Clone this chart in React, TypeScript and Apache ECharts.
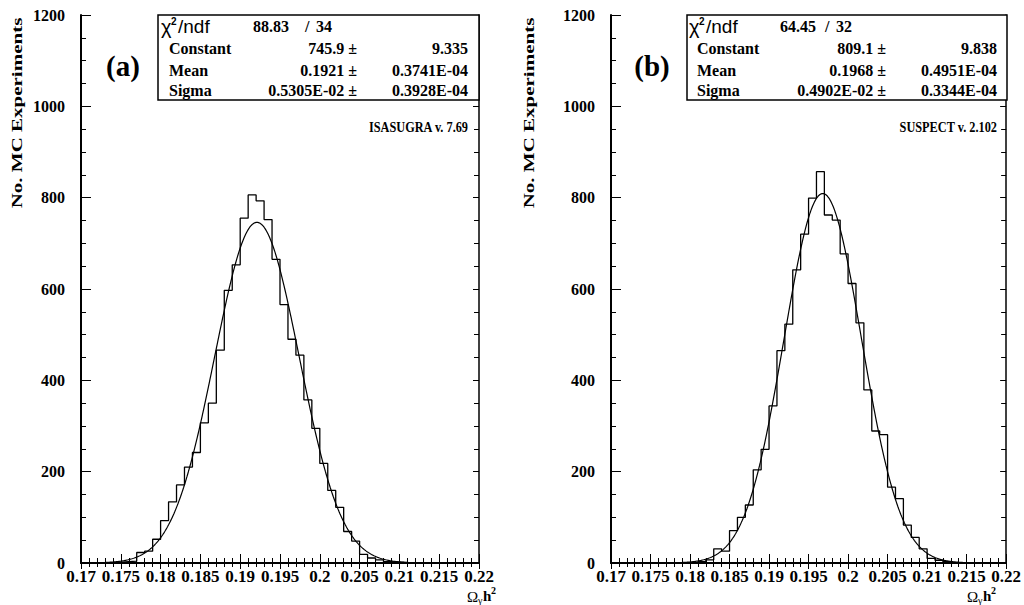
import React, { useEffect, useRef } from "react";
import * as echarts from "echarts";

// Histogram binning (Omega h^2)
const BIN_START = 0.17;
const BIN_WIDTH = 0.001;

// Panel (a): ISASUGRA v. 7.69 — counts per bin
const countsA = [
  0, 0, 0, 1, 2, 3, 4, 23, 26, 52,
  93, 134, 171, 210, 242, 307, 350, 466, 597, 653,
  755, 806, 793, 752, 665, 566, 490, 455, 357, 295,
  218, 159, 122, 69, 48, 19, 11, 7, 3, 2,
  1, 0, 0, 0, 0, 0, 0, 0, 0, 0,
];

// Panel (b): SUSPECT v. 2.102 — counts per bin
const countsB = [
  0, 0, 0, 0, 0, 0, 0, 0, 0, 0,
  1, 3, 7, 31, 26, 71, 100, 127, 204, 249,
  344, 465, 523, 642, 720, 799, 857, 762, 751, 677,
  612, 526, 379, 289, 281, 166, 141, 83, 56, 31,
  10, 6, 3, 1, 0, 0, 0, 0, 0, 0,
];

// Gaussian fit parameters (from the stat boxes)
const fitA = { constant: 745.9, mean: 0.1921, sigma: 0.5305e-2 };
const fitB = { constant: 809.1, mean: 0.1968, sigma: 0.4902e-2 };

const statsA = {
  chi: "88.83", ndf: "34",
  rows: [
    ["Constant", "745.9 \u00b1", "9.335"],
    ["Mean", "0.1921 \u00b1", "0.3741E-04"],
    ["Sigma", "0.5305E-02 \u00b1", "0.3928E-04"],
  ],
};
const statsB = {
  chi: "64.45", ndf: "32",
  rows: [
    ["Constant", "809.1 \u00b1", "9.838"],
    ["Mean", "0.1968 \u00b1", "0.4951E-04"],
    ["Sigma", "0.4902E-02 \u00b1", "0.3344E-04"],
  ],
};

const xTickLabels = ["0.17", "0.175", "0.18", "0.185", "0.19", "0.195", "0.2", "0.205", "0.21", "0.215", "0.22"];
const yTickLabels = ["0", "200", "400", "600", "800", "1000", "1200"];

const X_MIN = 0.17, X_MAX = 0.22, X_INT = 0.005;
const Y_MIN = 0, Y_MAX = 1200, Y_INT = 200;

const SERIF = "'Liberation Serif', 'Times New Roman', serif";
const SANS = "'Liberation Sans', Arial, sans-serif";

function histPoints(counts: number[]) {
  const pts: number[][] = counts.map((c, k) => [BIN_START + k * BIN_WIDTH, c]);
  pts.push([BIN_START + counts.length * BIN_WIDTH, counts[counts.length - 1]]);
  return pts;
}

function fitPoints(f: { constant: number; mean: number; sigma: number }) {
  const pts: number[][] = [];
  const n = 500;
  for (let i = 0; i <= n; i++) {
    const x = X_MIN + ((X_MAX - X_MIN) * i) / n;
    const z = (x - f.mean) / f.sigma;
    pts.push([x, f.constant * Math.exp(-0.5 * z * z)]);
  }
  return pts;
}

function xAxisPair(gridIndex: number) {
  const fmt = (v: number) => {
    const i = Math.round((v - X_MIN) / X_INT);
    return xTickLabels[i] ?? "";
  };
  return [
    {
      type: "value", gridIndex, position: "bottom", min: X_MIN, max: X_MAX, interval: X_INT,
      axisLine: { show: true, lineStyle: { color: "#000", width: 2 } },
      axisTick: { show: true, inside: true, length: 9, lineStyle: { color: "#000", width: 1 } },
      minorTick: { show: true, splitNumber: 5, length: 5, lineStyle: { color: "#000", width: 1 } },
      splitLine: { show: false }, minorSplitLine: { show: false },
      axisLabel: {
        show: true, formatter: fmt, fontFamily: SERIF, fontWeight: "bold", fontSize: 17,
        lineHeight: 14, color: "#000", margin: 6, showMinLabel: true, showMaxLabel: true,
        hideOverlap: false,
      },
    },
    {
      type: "value", gridIndex, position: "top", min: X_MIN, max: X_MAX, interval: X_INT,
      axisLine: { show: true, lineStyle: { color: "#000", width: 1.5 } },
      axisTick: { show: true, inside: true, length: 6, lineStyle: { color: "#000", width: 1 } },
      minorTick: { show: true, splitNumber: 5, length: 4, lineStyle: { color: "#000", width: 1 } },
      splitLine: { show: false }, minorSplitLine: { show: false },
      axisLabel: { show: false },
    },
  ];
}

function yAxisPair(gridIndex: number) {
  const fmt = (v: number) => {
    const i = Math.round((v - Y_MIN) / Y_INT);
    return yTickLabels[i] ?? "";
  };
  return [
    {
      type: "value", gridIndex, position: "left", min: Y_MIN, max: Y_MAX, interval: Y_INT,
      axisLine: { show: true, lineStyle: { color: "#000", width: 2 } },
      axisTick: { show: true, inside: true, length: 10, lineStyle: { color: "#000", width: 1 } },
      minorTick: { show: true, splitNumber: 4, length: 5, lineStyle: { color: "#000", width: 1 } },
      splitLine: { show: false }, minorSplitLine: { show: false },
      axisLabel: {
        show: true, formatter: fmt, fontFamily: SERIF, fontWeight: "bold", fontSize: 16,
        lineHeight: 12, color: "#000", margin: 16, showMinLabel: true, showMaxLabel: true,
      },
    },
    {
      type: "value", gridIndex, position: "right", min: Y_MIN, max: Y_MAX, interval: Y_INT,
      axisLine: { show: true, lineStyle: { color: "#000", width: 1.5 } },
      axisTick: { show: true, inside: true, length: 6, lineStyle: { color: "#000", width: 1 } },
      minorTick: { show: true, splitNumber: 4, length: 5, lineStyle: { color: "#000", width: 1 } },
      splitLine: { show: false }, minorSplitLine: { show: false },
      axisLabel: { show: false },
    },
  ];
}

function txt(x: number, y: number, text: string, opts: any = {}) {
  const { fontSize = 16, fontFamily = SERIF, fontWeight = "bold", align = "left", vAlign = "middle", fontStyle = "normal", ...rest } = opts;
  return {
    type: "text", x, y, z: 100, ...rest,
    style: {
      text, fill: "#000", fontSize, fontFamily, fontWeight, fontStyle,
      textAlign: align, textVerticalAlign: vAlign,
    },
  };
}

function statsBox(left: number, right: number, labelX: number, valRight: number, errRight: number,
  chiX: number, slashX: number, ndfX: number, s: typeof statsA) {
  const rowsY = [48, 70, 90];
  const els: any[] = [
    {
      type: "rect", z: 90,
      shape: { x: left, y: 15, width: right - left, height: 85 },
      style: { fill: "#fff", stroke: "#000", lineWidth: 1.5 },
    },
    txt(labelX - 8, 27, "\u03c7", { fontFamily: SANS, fontWeight: "normal", fontSize: 20 }),
    txt(labelX + 2, 21, "2", { fontFamily: SANS, fontWeight: "bold", fontSize: 10 }),
    txt(labelX + 9, 26, "/ndf", { fontFamily: SANS, fontWeight: "normal", fontSize: 19 }),
    txt(chiX, 26, s.chi),
    txt(slashX, 26, "/"),
    txt(ndfX, 26, s.ndf),
  ];
  s.rows.forEach((r, i) => {
    els.push(txt(labelX, rowsY[i], r[0]));
    els.push(txt(valRight, rowsY[i], r[1], { align: "right" }));
    els.push(txt(errRight, rowsY[i], r[2], { align: "right" }));
  });
  return els;
}

function xTitle(x: number) {
  return [
    txt(x, 597, "\u03a9", { fontWeight: "normal", fontSize: 15 }),
    txt(x + 11, 600, "\u03b3", { fontWeight: "normal", fontSize: 10 }),
    txt(x + 16, 596, "h", { fontSize: 15 }),
    txt(x + 24, 590, "2", { fontSize: 10 }),
  ];
}

function yTitle(x: number) {
  return txt(x, 113, "No. MC Experiments", {
    align: "center", fontSize: 15, rotation: Math.PI / 2, scaleX: 1.4,
  });
}

export default function App() {
  const ref = useRef<HTMLDivElement>(null);
  useEffect(() => {
    if (!ref.current) return;
    const chart = echarts.init(ref.current, null, { renderer: "svg" });
    const option: any = {
      animation: false,
      backgroundColor: "#fff",
      grid: [
        { left: 81, top: 15, width: 398, height: 548 },
        { left: 611, top: 15, width: 396, height: 548 },
      ],
      xAxis: [...xAxisPair(0), ...xAxisPair(1)],
      yAxis: [...yAxisPair(0), ...yAxisPair(1)],
      series: [
        {
          type: "line", xAxisIndex: 0, yAxisIndex: 0, step: "end", symbol: "none",
          data: histPoints(countsA), lineStyle: { color: "#000", width: 1.3 }, z: 3,
        },
        {
          type: "line", xAxisIndex: 0, yAxisIndex: 0, symbol: "none",
          data: fitPoints(fitA), lineStyle: { color: "#000", width: 1.2 }, z: 4,
        },
        {
          type: "line", xAxisIndex: 2, yAxisIndex: 2, step: "end", symbol: "none",
          data: histPoints(countsB), lineStyle: { color: "#000", width: 1.3 }, z: 3,
        },
        {
          type: "line", xAxisIndex: 2, yAxisIndex: 2, symbol: "none",
          data: fitPoints(fitB), lineStyle: { color: "#000", width: 1.2 }, z: 4,
        },
      ],
      graphic: [
        ...statsBox(158, 479, 169, 357, 468, 253, 305, 316, statsA),
        ...statsBox(687, 1007, 697, 886, 997, 780, 825, 836, statsB),
        txt(123, 66, "(a)", { align: "center", fontSize: 29 }),
        txt(652, 66, "(b)", { align: "center", fontSize: 29 }),
        txt(468, 127, "ISASUGRA v. 7.69", { align: "right", fontSize: 15, scaleX: 0.82 }),
        txt(997, 127, "SUSPECT v. 2.102", { align: "right", fontSize: 15, scaleX: 0.82 }),
        yTitle(17),
        yTitle(529),
        ...xTitle(467),
        ...xTitle(967),
      ],
    };
    chart.setOption(option);
    return () => chart.dispose();
  }, []);
  return (
    <div
      ref={ref}
      style={{ position: "absolute", left: 0, top: 0, width: 1024, height: 605, background: "#fff" }}
    />
  );
}
